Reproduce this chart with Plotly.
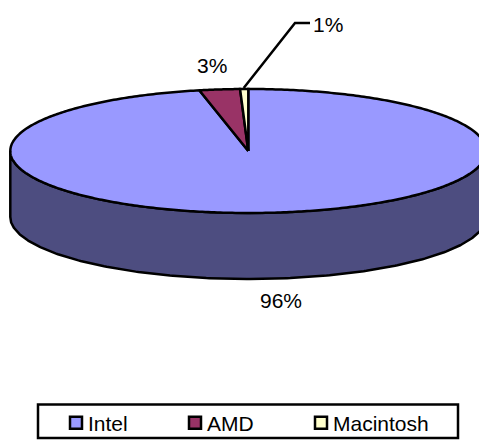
import numpy as np
import plotly.graph_objects as go

categories = ["Intel", "AMD", "Macintosh"]
values = [96.7, 2.75, 0.55]
value_labels = ["96%", "3%", "1%"]
colors = ["#9999FF", "#993366", "#FFFFCC"]
wall_color = "#4D4D80"

W, H = 479, 445  # canvas is slightly taller than the 441 px window, so the legend is not squeezed
CX, CY, RX, RY, DEPTH = 248.3, 151.0, 238.0, 62.0, 66.0
LW = 2.5
FONT = "Liberation Sans, Arial, sans-serif"


def ell(theta):
    return CX + RX * np.sin(theta), CY - RY * np.cos(theta)


fig = go.Figure()

# side wall (front half of the disc)
t = np.linspace(np.pi / 2, 3 * np.pi / 2, 240)
x_top, y_top = ell(t)
fig.add_trace(go.Scatter(
    x=np.r_[x_top, x_top[::-1], x_top[0]],
    y=np.r_[y_top, (y_top + DEPTH)[::-1], y_top[0]],
    mode="lines", fill="toself", fillcolor=wall_color,
    line=dict(color="black", width=LW), showlegend=False, hoverinfo="skip",
))

# top slices, clockwise from 12 o'clock
total = sum(values)
edges = np.cumsum([0] + values) / total * 2 * np.pi
for i, name in enumerate(categories):
    t = np.linspace(edges[i], edges[i + 1], 480 if i == 0 else 30)
    xs, ys = ell(t)
    fig.add_trace(go.Scatter(
        x=np.r_[CX, xs, CX], y=np.r_[CY, ys, CY],
        mode="lines", fill="toself", fillcolor=colors[i],
        line=dict(color="black", width=LW, simplify=False),
        showlegend=False, hoverinfo="skip",
    ))

# leader line for the smallest slice
lx, ly = ell((edges[2] + edges[3]) / 2)
fig.add_trace(go.Scatter(
    x=[lx - 0.5, 295, 310], y=[ly - 1, 23, 23], mode="lines",
    line=dict(color="black", width=LW), showlegend=False, hoverinfo="skip",
))

# legend entries, one legend object per entry so the spacing can follow the picture
legend_ids = ["legend", "legend2", "legend3"]
legend_left = [48, 167, 293]
for name, c, lid in zip(categories, colors, legend_ids):
    fig.add_trace(go.Scatter(
        x=[None], y=[None], mode="markers", name=name, legend=lid,
        marker=dict(symbol="square", size=12, color=c,
                    line=dict(color="black", width=2.5)),
    ))

label_pos = [(281, 300), (212, 65), (328, 24)]
for txt, (px, py) in zip(value_labels, label_pos):
    fig.add_annotation(x=px, y=py, text=txt, showarrow=False,
                       xanchor="center", yanchor="middle",
                       font=dict(family=FONT, size=21, color="black"))

# legend frame
fig.add_shape(type="rect", x0=38, x1=458, y0=404.5, y1=438,
              line=dict(color="black", width=2.5), fillcolor="white", layer="below")

legends = {
    lid: dict(
        orientation="h", x=left / W, y=1 - 402.5 / H, xanchor="left", yanchor="top",
        borderwidth=0, bgcolor="rgba(0,0,0,0)", itemwidth=30,
        font=dict(family=FONT, size=21, color="black"),
    )
    for lid, left in zip(legend_ids, legend_left)
}

fig.update_layout(
    width=W, height=H, margin=dict(l=0, r=0, t=0, b=0),
    paper_bgcolor="white", plot_bgcolor="white",
    xaxis=dict(range=[0, W], visible=False, fixedrange=True),
    yaxis=dict(range=[H, 0], visible=False, fixedrange=True),
    font=dict(family=FONT, size=21, color="black"),
    **legends,
)
post = """
document.documentElement.style.margin='0';
document.documentElement.style.overflow='hidden';
document.body.style.margin='0';
document.body.style.overflow='hidden';
function nudge(){
  document.querySelectorAll('.legendpoints').forEach(function(g){
    g.setAttribute('transform','translate(8,0)');
  });
}
nudge(); setTimeout(nudge,0); setTimeout(nudge,200);
"""
fig.write_html("out.html", config={"displayModeBar": False}, post_script=post)
